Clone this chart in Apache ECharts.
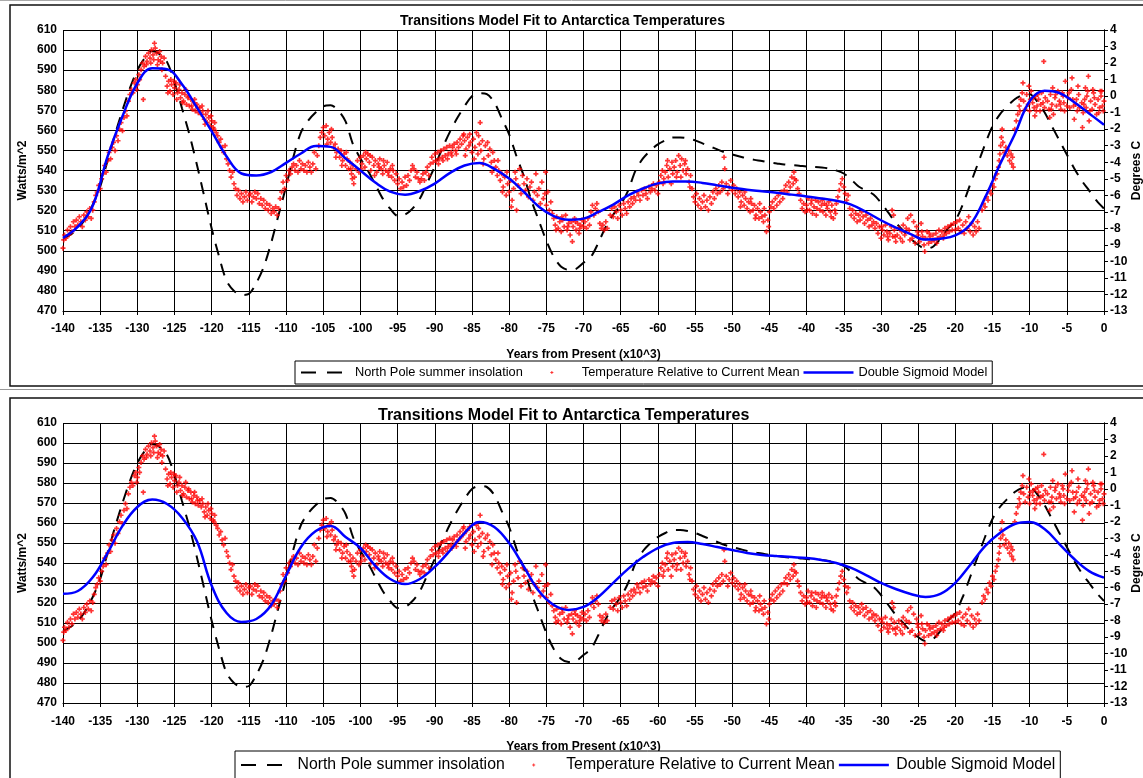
<!DOCTYPE html>
<html><head><meta charset="utf-8">
<script src="https://cdn.jsdelivr.net/npm/echarts@6/dist/echarts.min.js"></script>
<style>html,body{margin:0;padding:0;background:#fff}#c{width:1143px;height:778px}</style>
</head><body><div id="c"></div>
<script>
// ---------------- DATA ----------------
const chartTitle = 'Transitions Model Fit to Antarctica Temperatures';
const seriesNames = ['North Pole summer insolation', 'Temperature Relative to Current Mean', 'Double Sigmoid Model'];
const xTitle = 'Years from Present (x10^3)';
const yLeftTitle = 'Watts/m^2';
const yRightTitle = 'Degrees C';

// insolation (W/m^2), years -140..0 step 1 (kyr)
const insolationYears = [];
for (let y = -140; y <= 0; y += 1) insolationYears.push(y);
const insolation = [
 506,508,511,516,523,532,545,558,570,581,
 590,596,599.5,598,594,584,571,558,543,527,
 511,497,485,480,478,478.5,484,492,504,518,
 532,547,559,565,569,572,572.5,570,564.5,553,
 546,540,533,526,521,517.5,518,521,526,534,
 542,551,559,566,572,577,578.5,578,574,566,
 558,547,537,525,515,505,497,492,490.5,491,
 494,497,504,512,518,523,530,540,546,550,
 553,555,556.5,556.5,556,555,553.5,552,550.5,549,
 548,547,546,545.3,544.7,544,543.5,543,542.7,542.4,
 542,541.8,541.5,541,540,538.5,535.5,532,530,528,
 524,519,514,510,506,503,501,502,506,511,
 515,523,533,543,553,562,568,572,575.5,577.5,
 578,574.5,569,562,555,548,541,535,530,525,521
];

// model curves (deg C), years -140..0 step 2
const modelYears = [];
for (let y = -140; y <= 0; y += 2) modelYears.push(y);
const modelTop = [
 -8.58,-7.90,-6.63,-3.65,-1.22,0.78,1.69,1.63,0.72,-0.68,
 -2.13,-3.65,-4.68,-4.80,-4.59,-4.04,-3.47,-3.02,-3.07,-3.77,
 -4.50,-5.23,-5.78,-5.96,-5.74,-5.29,-4.66,-4.20,-4.05,-4.40,
 -4.99,-5.80,-6.69,-7.26,-7.48,-7.41,-7.01,-6.56,-6.01,-5.59,
 -5.28,-5.16,-5.16,-5.25,-5.40,-5.54,-5.67,-5.76,-5.85,-5.96,
 -6.07,-6.20,-6.33,-6.56,-7.01,-7.51,-7.95,-8.35,-8.68,-8.63,
 -8.43,-7.78,-6.14,-4.14,-2.31,-0.31,0.32,0.19,-0.37,-1.05,-1.73
];
const modelBottom = [
 -6.37,-6.20,-5.37,-3.89,-2.25,-1.10,-0.65,-0.92,-1.75,-3.17,
 -5.88,-7.54,-8.08,-7.90,-7.05,-5.26,-3.53,-2.56,-2.25,-2.92,
 -3.59,-4.67,-5.47,-5.78,-5.47,-4.74,-3.77,-2.68,-2.01,-2.31,
 -3.29,-4.74,-6.20,-7.05,-7.35,-7.17,-6.56,-5.71,-4.86,-4.14,
 -3.59,-3.29,-3.23,-3.35,-3.53,-3.71,-3.89,-4.01,-4.08,-4.14,
 -4.20,-4.32,-4.50,-4.80,-5.23,-5.71,-6.08,-6.38,-6.56,-6.38,
 -5.71,-4.62,-3.47,-2.68,-2.13,-2.01,-2.44,-3.35,-4.26,-4.99,-5.39
];

// temperature observations [year kyr, deg C]
const tempPoints = [
[-140,-9.2],[-139.9,-8.7],[-139.8,-8.4],[-139.6,-8.6],[-139.4,-8.1],[-139.2,-8.4],[-139,-7.9],[-138.8,-8.2],[-138.6,-7.6],[-138.4,-7.9],[-138.2,-7.5],[-138,-7.8],[-137.8,-7.3],[-137.6,-7.6],[-137.4,-7.9],[-137.2,-7.2],[-137,-7.5],[-136.8,-7.0],[-136.6,-7.3],[-136.4,-6.8],[-136.2,-7.4],[-136,-6.9],
[-135.8,-6.4],[-135.6,-6.0],[-135.4,-5.8],[-135.2,-5.4],[-135,-5.6],[-134.8,-5.0],[-134.6,-4.7],
[-134.4,-4.2],[-134.2,-4.6],[-134,-3.9],[-133.8,-3.4],[-133.6,-3.8],[-133.4,-3.1],[-133.2,-2.8],[-133,-3.3],[-132.8,-2.4],[-132.6,-2.7],[-132.4,-2.0],[-132.2,-1.6],[-132,-2.1],[-131.8,-1.3],[-131.6,-0.9],[-131.4,-1.2],
[-131.2,-0.3],[-131,0.1],[-130.8,0.4],[-130.6,0.2],[-130.4,0.8],[-130.2,1.0],[-130.1,0.4],[-130,0.7],[-129.8,1.3],[-129.7,1.0],[-129.2,-0.2],
[-129.5,1.6],[-129.3,2.0],[-129.1,1.8],[-128.9,2.4],[-128.8,1.9],[-128.7,2.1],[-128.5,2.6],[-128.3,2.3],[-128.2,2.0],[-128.1,2.8],[-127.9,2.5],[-127.8,2.2],[-127.7,3.2],[-127.6,2.9],[-127.4,2.6],[-127.3,1.9],[-127.2,2.2],[-127,2.7],[-126.9,2.1],[-126.8,2.4],[-126.7,1.6],[-126.6,2.0],[-126.4,2.3],
[-126.2,1.2],[-126,0.6],[-125.9,0.2],[-125.8,0.9],[-125.6,0.3],[-125.5,1.0],[-125.4,0.7],[-125.2,0.1],[-125.1,0.9],[-125,0.5],[-124.8,0.8],[-124.7,-0.2],[-124.6,0.2],[-124.4,0.4],[-124.3,0.7],[-124.2,-0.1],
[-124,0.2],[-123.9,-0.4],[-123.8,-0.3],[-123.6,0.1],[-123.5,0.4],[-123.4,-0.5],[-123.2,-0.1],[-123.1,0.0],[-123,-0.6],[-122.8,-0.2],[-122.7,-0.6],[-122.6,-0.8],[-122.4,-0.4],[-122.3,-0.2],[-122.2,-0.9],[-122,-0.5],[-121.9,-0.7],[-121.8,-1.0],
[-121.6,-0.7],[-121.4,-1.1],[-121.3,-0.6],[-121.2,-0.9],[-121,-1.4],[-120.9,-1.7],[-120.8,-1.1],[-120.6,-1.6],[-120.5,-0.9],[-120.4,-1.3],[-120.2,-1.8],[-120.1,-1.2],[-120,-1.5],[-119.8,-1.9],[-119.7,-2.0],[-119.6,-1.6],[-119.4,-2.2],
[-119.2,-2.4],[-119,-2.8],[-118.8,-2.6],[-118.6,-3.1],[-118.4,-3.4],[-118.2,-3.0],[-118,-3.8],
[-117.8,-4.1],[-117.6,-4.5],[-117.4,-4.9],[-117.2,-4.6],[-117,-5.3],[-116.8,-5.6],
[-116.6,-6.0],[-116.4,-5.7],[-116.2,-6.2],[-116,-5.9],[-115.8,-6.4],[-115.6,-6.1],[-115.4,-5.8],[-115.2,-6.3],[-115,-6.0],[-114.8,-5.9],[-114.6,-6.4],[-114.4,-6.1],[-114.2,-5.8],[-114,-6.2],[-113.8,-5.9],[-113.6,-6.5],
[-113.4,-6.2],[-113.2,-6.6],[-113,-6.3],[-112.8,-6.8],[-112.6,-6.5],[-112.4,-6.9],[-112.2,-6.6],[-112,-7.1],[-111.8,-6.8],[-111.6,-7.0],[-111.4,-6.7],[-111.2,-7.2],[-111,-6.8],
[-110.8,-6.2],[-110.6,-5.8],[-110.4,-5.2],[-110.2,-5.6],[-110,-4.8],[-109.8,-5.1],[-109.6,-4.5],[-109.4,-4.7],[-109.2,-4.3],
[-109,-4.1],[-108.8,-4.5],[-108.6,-4.2],[-108.4,-4.6],[-108.2,-3.9],[-108,-4.4],[-107.8,-4.1],[-107.6,-4.5],[-107.4,-4.2],[-107.2,-4.6],[-107,-4.0],[-106.8,-4.3],[-106.6,-4.6],[-106.4,-4.1],[-106.2,-3.4],[-106,-4.4],[-105.8,-3.6],[-105.6,-3.0],[-105.4,-2.5],
[-105.2,-2.2],[-105,-1.9],[-104.8,-2.4],[-104.6,-1.8],[-104.5,-2.9],[-104.4,-2.6],[-104.2,-2.2],[-104,-2.8],[-103.9,-2.0],[-103.8,-2.5],
[-103.6,-3.1],[-103.4,-2.9],[-103.3,-3.7],[-103.2,-3.4],[-103,-3.2],[-102.8,-3.7],[-102.6,-3.3],[-102.5,-4.2],[-102.4,-3.9],[-102.2,-3.5],[-102,-4.2],[-101.9,-3.4],[-101.8,-3.8],[-101.6,-4.4],[-101.4,-4.0],[-101.3,-4.4],[-101.2,-4.7],[-101.1,-5.0],[-101,-4.2],[-100.9,-5.3],[-100.8,-4.9],[-100.6,-4.4],[-100.4,-3.9],[-100.2,-4.6],
[-100,-3.7],[-99.9,-4.4],[-99.8,-4.1],[-99.6,-3.6],[-99.4,-4.3],[-99.3,-3.4],[-99.2,-3.8],[-99,-3.5],[-98.8,-4.0],[-98.7,-3.6],[-98.6,-4.5],[-98.4,-3.7],[-98.2,-4.2],[-98.1,-4.8],[-98,-3.9],[-97.8,-4.6],[-97.6,-4.1],[-97.5,-4.3],[-97.4,-3.8],[-97.2,-4.4],[-97,-4.7],[-96.9,-3.9],[-96.8,-4.2],[-96.6,-4.5],[-96.4,-4.0],[-96.3,-4.6],[-96.2,-4.8],[-96,-4.4],[-95.8,-4.9],[-95.7,-4.2],[-95.6,-4.5],[-95.4,-5.1],[-95.2,-4.7],
[-95,-5.3],[-94.8,-5.0],[-94.6,-5.6],[-94.4,-5.2],[-94.2,-5.5],[-94,-4.9],[-93.8,-5.4],
[-93.6,-4.8],[-93.4,-5.1],[-93.2,-4.5],[-93,-4.2],[-92.8,-4.4],[-92.6,-4.9],[-92.4,-4.6],[-92.2,-5.0],[-92,-5.2],[-91.8,-5.0],[-91.6,-4.7],[-91.4,-5.1],[-91.2,-4.6],[-91,-4.3],[-90.8,-4.8],
[-90.6,-4.1],[-90.4,-3.7],[-90.2,-4.0],[-90,-3.5],[-89.8,-3.9],[-89.6,-3.4],[-89.5,-4.1],[-89.4,-3.8],[-89.2,-3.3],[-89,-3.7],[-88.9,-3.9],[-88.8,-3.2],[-88.6,-3.6],[-88.4,-3.1],[-88.3,-3.8],[-88.2,-3.5],[-88,-3.0],[-87.8,-3.4],[-87.7,-3.6],[-87.6,-3.1],[-87.4,-2.9],[-87.2,-3.3],[-87.1,-3.5],[-87,-2.8],[-86.8,-3.1],[-86.6,-2.6],[-86.4,-2.9],[-86.2,-2.4],[-86.1,-2.3],
[-86,-2.7],[-85.9,-3.6],[-85.8,-3.2],[-85.6,-2.5],[-85.4,-3.0],[-85.3,-2.3],[-85.2,-2.8],[-85,-3.4],[-84.8,-2.6],[-84.7,-3.8],[-84.6,-3.1],[-84.4,-2.2],[-84.2,-3.5],[-84.1,-2.4],[-84,-2.9],[-83.9,-1.6],[-83.8,-3.3],[-83.6,-2.7],[-83.5,-4.1],[-83.4,-3.8],[-83.2,-3.0],[-82.9,-2.8],[-82.8,-3.6],[-82.6,-3.2],[-82.4,-4.0],[-82.3,-4.6],[-82.2,-3.4],[-82,-3.9],
[-81.8,-4.3],[-81.6,-4.8],[-81.5,-3.9],[-81.4,-4.5],[-81.2,-5.1],[-81,-4.7],[-80.9,-5.8],[-80.8,-5.5],[-80.6,-4.9],[-80.4,-6.0],[-80.3,-4.6],[-80.2,-5.3],[-80,-5.8],[-79.8,-5.1],[-79.7,-6.7],[-79.6,-6.3],[-79.4,-5.6],[-79.2,-4.6],[-79.1,-5.0],[-79,-6.9],[-78.8,-5.4],[-78.6,-4.4],[-78.4,-5.9],
[-78.2,-4.8],[-78,-5.3],[-77.8,-5.7],[-77.6,-5.0],[-77.4,-6.1],[-77.2,-5.5],[-77,-5.2],[-76.8,-6.3],[-76.6,-5.8],[-76.4,-4.7],[-76.2,-6.0],[-76,-5.6],[-75.8,-6.5],[-75.6,-5.2],[-75.4,-6.2],[-75.2,-5.9],[-75.1,-4.6],[-75,-6.6],[-74.8,-5.8],[-74.6,-6.9],[-74.4,-6.4],[-74.2,-7.1],
[-74,-7.4],[-73.8,-7.8],[-73.7,-8.1],[-73.6,-7.3],[-73.4,-8.0],[-73.2,-7.6],[-73,-8.2],[-72.9,-7.3],[-72.8,-7.5],[-72.6,-7.9],[-72.4,-7.2],[-72.2,-8.1],[-72.1,-7.9],[-72,-7.7],[-71.8,-8.4],[-71.6,-7.6],[-71.5,-8.8],[-71.4,-7.9],[-71.2,-7.4],[-71.1,-7.6],[-71,-8.1],[-70.8,-7.7],[-70.6,-8.3],[-70.5,-8.0],[-70.4,-7.8],
[-70.2,-7.5],[-70,-7.9],[-69.8,-7.6],[-69.6,-8.0],[-69.4,-7.4],[-69.2,-7.8],[-69,-7.0],[-68.8,-6.6],[-68.6,-7.2],[-68.4,-6.8],[-68.2,-6.5],[-68,-7.0],[-67.8,-7.7],[-67.6,-8.0],[-67.4,-7.8],[-67.2,-8.1],[-67,-7.6],[-66.8,-8.0],
[-66.4,-7.2],[-66.2,-6.8],[-66,-7.3],[-65.8,-6.7],[-65.6,-7.0],[-65.4,-7.4],[-65.2,-6.6],[-65,-6.9],[-64.8,-7.2],[-64.6,-6.5],[-64.4,-6.8],[-64.2,-7.1],[-64,-6.4],[-63.8,-6.7],[-63.6,-6.2],[-63.4,-6.5],
[-63.2,-6.1],[-63,-6.3],[-62.8,-5.8],[-62.6,-6.0],[-62.4,-6.3],[-62.2,-5.7],[-62,-6.0],[-61.8,-5.6],[-61.6,-5.9],[-61.4,-6.2],[-61.2,-5.5],[-61,-5.8],[-60.8,-5.6],[-60.6,-5.3],[-60.4,-5.7],[-60.2,-5.4],[-60,-5.9],[-59.8,-5.2],
[-59.6,-4.8],[-59.4,-4.5],[-59.3,-5.3],[-59.2,-5.0],[-59,-4.6],[-58.8,-4.2],[-58.7,-3.9],[-58.6,-4.9],[-58.4,-4.4],[-58.2,-5.3],[-58.1,-4.0],[-58,-4.7],[-57.8,-4.3],[-57.6,-3.9],[-57.5,-4.9],[-57.4,-4.6],[-57.2,-3.6],[-57,-4.2],[-56.9,-4.9],[-56.8,-3.8],[-56.6,-4.5],[-56.4,-4.1],[-56.3,-3.9],[-56.2,-4.7],[-56,-4.4],[-55.8,-5.2],[-55.7,-5.5],[-55.6,-4.8],
[-55.4,-5.6],[-55.2,-6.1],[-55,-6.4],[-54.8,-5.9],[-54.6,-6.6],[-54.4,-6.2],[-54.2,-6.8],[-54,-6.4],[-53.8,-6.0],[-53.6,-6.7],[-53.4,-6.3],[-53.2,-6.9],[-53,-6.1],[-52.8,-6.5],[-52.6,-5.8],[-52.4,-6.2],[-52.2,-5.6],[-52,-5.9],
[-51.8,-5.4],[-51.6,-5.8],[-51.4,-5.2],[-51.2,-5.6],[-51.1,-3.7],[-51,-4.4],[-50.8,-5.3],[-50.6,-5.9],[-50.4,-5.5],[-50.2,-5.1],[-50,-5.7],[-49.8,-5.4],[-49.6,-5.9],[-49.4,-5.6],
[-49.2,-6.1],[-49,-5.8],[-48.9,-6.7],[-48.8,-6.4],[-48.6,-6.0],[-48.4,-6.6],[-48.3,-5.8],[-48.2,-6.2],[-48,-6.8],[-47.8,-6.4],[-47.6,-7.0],[-47.5,-6.2],[-47.4,-6.5],[-47.2,-6.9],[-47,-6.6],[-46.9,-7.4],[-46.8,-7.2],[-46.6,-6.8],[-46.4,-7.4],[-46.3,-6.5],[-46.2,-7.0],[-46,-7.3],[-45.8,-7.6],[-45.7,-6.8],[-45.6,-7.2],[-45.4,-8.2],[-45.2,-7.5],[-45.1,-7.9],[-45,-7.0],[-44.8,-6.7],
[-44.6,-6.4],[-44.4,-6.8],[-44.2,-6.2],[-44,-6.6],[-43.8,-6.0],[-43.6,-6.4],[-43.4,-5.8],[-43.2,-6.2],
[-43,-5.7],[-42.8,-5.4],[-42.6,-5.8],[-42.4,-5.2],[-42.2,-5.5],[-42,-4.9],[-41.8,-5.3],[-41.7,-4.6],[-41.6,-5.0],[-41.4,-5.1],[-41.2,-5.6],[-41,-5.9],
[-40.8,-6.3],[-40.6,-6.8],[-40.4,-6.5],[-40.2,-7.0],[-40,-6.6],[-39.9,-6.9],[-39.8,-6.2],[-39.6,-6.9],[-39.4,-6.5],[-39.3,-6.3],[-39.2,-7.1],[-39,-6.7],[-38.8,-6.3],[-38.7,-7.2],[-38.6,-6.8],[-38.4,-6.4],[-38.2,-6.9],
[-38,-6.6],[-37.9,-6.3],[-37.8,-7.0],[-37.6,-6.5],[-37.4,-7.2],[-37.3,-6.6],[-37.2,-6.8],[-37,-6.4],[-36.8,-7.0],[-36.7,-7.3],[-36.6,-6.6],[-36.4,-7.4],[-36.2,-6.9],[-36.1,-7.1],[-36,-6.5],[-35.8,-6.1],[-35.6,-5.7],[-35.4,-5.3],[-35.2,-5.0],
[-35,-5.5],[-34.8,-5.9],[-34.6,-6.3],[-34.4,-6.0],
[-34.2,-6.8],[-34,-7.2],[-33.8,-6.9],[-33.6,-7.4],[-33.4,-7.1],[-33.2,-7.6],[-33,-7.2],[-32.8,-7.5],[-32.6,-7.0],[-32.4,-7.3],[-32.2,-7.7],[-32,-7.2],[-31.8,-7.5],[-31.6,-7.9],[-31.4,-7.4],[-31.2,-7.8],
[-31,-7.6],[-30.8,-8.0],[-30.6,-7.7],[-30.4,-8.3],[-30.2,-7.9],[-30,-8.6],[-29.9,-7.9],[-29.8,-8.1],[-29.6,-8.4],[-29.4,-7.8],[-29.2,-8.2],[-29.1,-8.5],[-29,-8.7],[-28.8,-8.3],[-28.6,-7.9],[-28.5,-6.9],[-28.4,-8.5],[-28.3,-7.2],[-28.2,-8.1],[-28.1,-8.5],[-28,-8.8],[-27.8,-8.4],[-27.6,-8.0],[-27.4,-8.6],[-27.2,-8.2],[-27.1,-8.8],[-27,-7.8],[-26.8,-8.4],[-26.6,-8.0],
[-26.4,-7.4],[-26.2,-8.1],[-26.1,-8.7],[-26,-7.2],[-25.8,-8.6],[-25.6,-7.6],[-25.4,-8.9],[-25.2,-7.9],[-25.1,-8.2],[-25,-8.4],[-24.8,-8.8],[-24.6,-7.7],[-24.5,-8.2],[-24.4,-8.5],[-24.2,-9.0],[-24.1,-9.4],[-24,-8.6],[-23.8,-8.2],[-23.6,-8.9],[-23.5,-8.3],[-23.4,-8.5],[-23.2,-8.8],
[-23,-8.4],[-22.8,-8.7],[-22.6,-8.3],[-22.5,-8.9],[-22.4,-8.6],[-22.2,-8.1],[-22,-8.5],[-21.8,-8.2],[-21.6,-8.6],[-21.5,-8.4],[-21.4,-8.0],[-21.2,-8.3],[-21,-7.9],[-20.8,-8.2],[-20.6,-7.8],[-20.4,-8.1],
[-20.2,-7.7],[-20,-8.1],[-19.8,-7.6],[-19.6,-8.0],[-19.4,-7.5],[-19.2,-8.2],[-19,-7.8],[-18.8,-8.3],[-18.6,-7.6],[-18.4,-8.0],[-18.2,-7.3],[-18,-8.2],[-17.8,-7.7],[-17.6,-8.4],[-17.4,-7.9],[-17.2,-8.2],[-17,-7.6],[-16.8,-8.0],
[-16.4,-6.9],[-16.2,-6.5],[-16,-6.7],[-15.8,-6.1],[-15.6,-6.3],[-15.4,-5.7],[-15.2,-5.9],[-15,-5.3],[-14.8,-5.5],[-14.6,-5.0],[-14.4,-4.7],
[-14.2,-4.3],[-14.1,-3.9],[-14,-3.5],[-13.9,-3.0],[-13.8,-2.5],[-13.7,-2.0],[-13.6,-2.8],[-13.4,-3.4],[-13.2,-3.1],[-13,-3.6],[-12.8,-3.3],[-12.7,-3.9],[-12.5,-3.5],[-12.4,-4.1],[-12.3,-3.7],[-12.2,-4.3],
[-12,-2.0],[-11.8,-1.5],[-11.6,-1.1],[-11.4,-0.6],[-11.3,-0.9],[-11.2,-0.2],[-11,0.2],[-10.9,0.8],
[-10.8,-0.3],[-10.6,-0.8],[-10.4,0.1],[-10.2,-0.5],[-10.1,0.6],[-10,-0.9],[-9.9,-0.2],[-9.8,0.3],[-9.6,-0.4],[-9.5,-0.1],[-9.4,-0.7],[-9.3,-1.2],[-9.2,0.0],[-9.1,-0.9],[-9,-0.6],[-8.9,0.1],[-8.8,-0.2],[-8.6,-0.9],[-8.5,-0.5],[-8.4,0.2],[-8.2,-0.4],[-8.1,2.1],[-8,-0.7],[-7.9,-0.1],[-7.6,-0.3],[-7.4,-0.8],[-7.3,-1.3],[-7.2,0.1],[-7.1,-0.8],[-7,-0.5],[-6.9,0.5],[-6.8,-1.1],[-6.6,-0.1],[-6.5,0.1],[-6.4,-0.6],[-6.2,0.3],[-6,-0.3],[-5.9,-0.5],[-5.8,-0.8],[-5.6,0.2],[-5.5,0.0],[-5.4,-0.4],[-5.3,-0.9],[-5.2,0.9],[-5,-0.6],[-4.8,-0.1],[-4.7,0.2],[-4.6,-0.7],[-4.4,0.4],[-4.3,1.1],[-4.2,-0.2],[-4.1,-0.6],[-4,-1.4],[-3.8,-0.5],[-3.7,-0.2],[-3.6,-0.9],[-3.5,0.6],[-3.4,0.1],[-3.3,-0.7],[-3,-0.4],[-2.9,-1.9],[-2.8,-1.0],[-2.7,-0.5],[-2.6,-0.2],[-2.5,0.5],[-2.4,-0.7],[-2.3,0.0],[-2.2,0.3],[-2.1,1.2],[-2,-1.5],[-1.9,-0.9],[-1.8,-0.3],[-1.6,-0.8],[-1.5,0.4],[-1.4,0.2],[-1.3,-0.1],[-1.2,-0.5],[-1,-1.1],[-0.8,-0.2],[-0.7,-1.0],[-0.6,-0.7],[-0.5,0.3],[-0.4,0.0],[-0.3,0.3],[-0.2,-0.6],[-0.1,-0.9],[0,-0.3]
];

// ---------------- CHART ----------------
const chart = echarts.init(document.getElementById('c'), null, {renderer: 'canvas'});
const insolData = insolationYears.map((y, i) => [y, insolation[i]]);
const topModel = modelYears.map((y, i) => [y, modelTop[i]]);
const botModel = modelYears.map((y, i) => [y, modelBottom[i]]);

const FONT = "'Liberation Sans', Arial, sans-serif";
const NARROW = "'Liberation Sans Narrow', 'Liberation Sans', Arial, sans-serif";
const plusPath = 'path://M2,0H4V2H6V4H4V6H2V4H0V2H2Z';

function xAx(gi, fam, margin, gap) {
  return {
    type: 'value', gridIndex: gi, min: -140, max: 0, interval: 5,
    axisLine: {show: true, onZero: false, lineStyle: {color: '#000', width: 1}},
    axisTick: {show: true, length: 4, lineStyle: {color: '#000'}},
    splitLine: {show: true, lineStyle: {color: '#000', width: 1}},
    axisLabel: {color: '#000', fontWeight: 'bold', fontSize: 12, fontFamily: fam, margin: margin},
    name: xTitle, nameLocation: 'middle', nameGap: gap, nameMoveOverlap: false,
    nameTextStyle: {color: '#000', fontWeight: 'bold', fontSize: 12, fontFamily: FONT, verticalAlign: 'middle'}
  };
}
function yLeft(gi) {
  return {
    type: 'value', gridIndex: gi, position: 'left', min: 470, max: 610, interval: 10,
    axisLine: {show: true, lineStyle: {color: '#000'}},
    axisTick: {show: true, length: 4, lineStyle: {color: '#000'}},
    splitLine: {show: true, lineStyle: {color: '#000', width: 1}},
    axisLabel: {color: '#000', fontWeight: 'bold', fontSize: 12, fontFamily: FONT, margin: 6},
    name: yLeftTitle, nameLocation: 'middle', nameGap: 40, nameRotate: 90, nameMoveOverlap: false,
    nameTextStyle: {color: '#000', fontWeight: 'bold', fontSize: 12, fontFamily: FONT, verticalAlign: 'middle'}
  };
}
function yRight(gi) {
  return {
    type: 'value', gridIndex: gi, position: 'right', min: -13, max: 4, interval: 1,
    axisLine: {show: true, lineStyle: {color: '#000'}},
    axisTick: {show: true, length: 4, lineStyle: {color: '#000'}},
    splitLine: {show: false},
    axisLabel: {color: '#000', fontWeight: 'bold', fontSize: 12, fontFamily: FONT, margin: 6},
    name: yRightTitle, nameLocation: 'middle', nameGap: 33, nameRotate: 90, nameMoveOverlap: false,
    nameTextStyle: {color: '#000', fontWeight: 'bold', fontSize: 12, fontFamily: FONT, verticalAlign: 'middle'}
  };
}
function panelSeries(xi, yl, yr, model) {
  return [
    {name: seriesNames[0], type: 'line', xAxisIndex: xi, yAxisIndex: yl, data: insolData,
     symbol: 'none', smooth: 0.3, lineStyle: {color: '#000', width: 2, type: [12, 9]}, itemStyle: {color: '#000'}, z: 3},
    {name: seriesNames[1], type: 'scatter', xAxisIndex: xi, yAxisIndex: yr, data: tempPoints,
     symbol: plusPath, symbolSize: 5, itemStyle: {color: '#ff0000'}, z: 4},
    {name: seriesNames[2], type: 'line', xAxisIndex: xi, yAxisIndex: yr, data: model,
     symbol: 'none', smooth: 0.4, lineStyle: {color: '#0000ff', width: 2.5}, itemStyle: {color: '#0000ff'}, z: 5}
  ];
}
const legendPlus = 'path://M0,0L0,0M50,10L50,10M24.5,3.5h1v1h1v1h-1v1h-1v-1h-1v-1h1z';
const legendDash = 'path://M0,0L0,0M50,10L50,10M1,4h15v2h-15zM27,4h15v2h-15z';
const legendSolid = 'path://M0,0L0,0M50,10L50,10M0,3.8h50v2.4h-50z';
function legend(left, top, size, w, pad) {
  return {
    left: left, top: top, orient: 'horizontal', selectedMode: false,
    backgroundColor: '#fff', borderColor: '#000', borderWidth: 1, padding: pad,
    itemGap: 4, itemWidth: w, itemHeight: 10,
    textStyle: {color: '#000', fontSize: size, fontFamily: FONT},
    data: [{name: seriesNames[0], icon: legendDash}, {name: seriesNames[1], icon: legendPlus}, {name: seriesNames[2], icon: legendSolid}]
  };
}

chart.setOption({
  backgroundColor: '#fff',
  animation: false,
  title: [
    {text: chartTitle, left: 395, top: 9, textStyle: {fontSize: 14, fontWeight: 'bold', color: '#000', fontFamily: FONT}},
    {text: chartTitle, left: 373, top: 403, textStyle: {fontSize: 16, fontWeight: 'bold', color: '#000', fontFamily: FONT}}
  ],
  grid: [
    {left: 63, top: 30, width: 1041, height: 281, containLabel: false, outerBoundsMode: 'none'},
    {left: 63, top: 423, width: 1041, height: 280, containLabel: false, outerBoundsMode: 'none'}
  ],
  xAxis: [xAx(0, FONT, 12, 44), xAx(1, NARROW, 13, 44)],
  yAxis: [yLeft(0), yRight(0), yLeft(1), yRight(1)],
  legend: [legend(295, 361, 12.8, 50, [5, 5, 5, 5]), legend(235, 751, 15.8, 55, [6, 5, 6, 5])],
  series: [...panelSeries(0, 0, 1, topModel), ...panelSeries(1, 2, 3, botModel)],
  graphic: [
    {type: 'line', shape: {x1: 0, y1: 0.5, x2: 1143, y2: 0.5}, style: {stroke: '#aaa', lineWidth: 1}, silent: true},
    {type: 'rect', shape: {x: 10, y: 5, width: 1145, height: 381}, style: {fill: 'none', stroke: '#111', lineWidth: 1.5}, silent: true, z: -1},
    {type: 'line', shape: {x1: 0, y1: 389.5, x2: 1143, y2: 389.5}, style: {stroke: '#999', lineWidth: 1}, silent: true},
    {type: 'rect', shape: {x: 10, y: 398, width: 1145, height: 400}, style: {fill: 'none', stroke: '#111', lineWidth: 1.5}, silent: true, z: -1}
  ]
});
</script>
</body></html>
